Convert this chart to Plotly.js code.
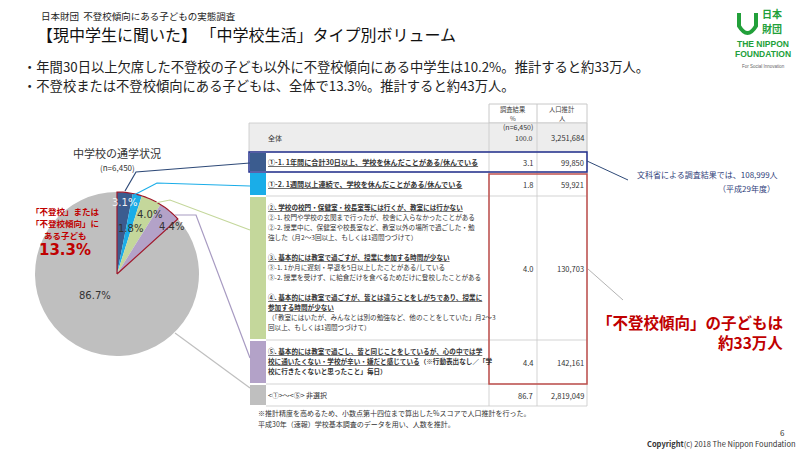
<!DOCTYPE html>
<html><head><meta charset="utf-8">
<script src="https://cdn.plot.ly/plotly-3.0.1.min.js"></script>
<style>html,body{margin:0;padding:0;background:#fff}#chart{width:800px;height:450px}</style>
</head><body><div id="chart"></div>
<script>
// ---------- data ----------
const categories = ['①-1', '①-2', '②～④', '⑤', '非選択'];
const percents = [3.1, 1.8, 4.0, 4.4, 86.7];
const pctLabels = ['3.1', '1.8', '4.0', '4.4', '86.7'];
const populations = ['99,850', '59,921', '130,703', '142,161', '2,819,049'];
const totalN = '(n=6,450)';
const totalPct = '100.0';
const totalPop = '3,251,684';
const headerPct = ['調査結果', '%'];
const headerPop = ['人口推計', '人'];
const rowTexts = [
  ['<b><u>①-1. 1年間に合計30日以上、学校を休んだことがある/休んでいる</u></b>'],
  ['<b><u>①-2. 1週間以上連続で、学校を休んだことがある/休んでいる</u></b>'],
  ['<b><u>②. 学校の校門・保健室・校長室等には行くが、教室には行かない</u></b>',
   '②-1. 校門や学校の玄関まで行ったが、校舎に入らなかったことがある',
   '②-2. 授業中に、保健室や校長室など、教室以外の場所で過ごした・勉',
   '強した（月2～3回以上、もしくは1週間つづけて）',
   '',
   '<b><u>③. 基本的には教室で過ごすが、授業に参加する時間が少ない</u></b>',
   '③-1. 1か月に遅刻・早退を5日以上したことがある/している',
   '③-2. 授業を受けず、に給食だけを食べるためだけに登校したことがある',
   '',
   '<b><u>④. 基本的には教室で過ごすが、皆とは違うことをしがちであり、授業に</u></b>',
   '<b><u>参加する時間が少ない</u></b>',
   '（「教室にはいたが、みんなとは別の勉強など、他のことをしていた」月2～3',
   '回以上、もしくは1週間つづけて）'],
  ['<b><u>⑤. 基本的には教室で過ごし、皆と同じことをしているが、心の中では学</u></b>',
   '<b><u>校に通いたくない・学校が辛い・嫌だと感じている</u>（※行動表出なし／「学</b>',
   '<b>校に行きたくないと思ったこと」毎日）</b>'],
  ['&lt;①&gt;～&lt;⑤&gt; 非選択']
];

// ---------- styles / geometry ----------
const W = 800, H = 450;
const F = '"Noto Sans CJK JP", "Noto Sans", sans-serif';
const sliceColors = ['#3B5C8F', '#1AADE8', '#C4D79B', '#B3A2C8', '#BFBFBF'];
const RED = '#C00000', NAVY = '#23308F', GRID = '#C8C8C8';
const pie = {cx: 117, cy: 274, r: 82};
const tbl = {x0: 249, strip: 266, c1: 489, c2: 537, x1: 587, hTop: 104, hBot: 123, tBot: 152};
const rowTop = [152, 172, 196, 340, 384];
const rowBot = [172, 196, 340, 384, 406];
const rowFirstLine = [162, 184, 207, 351, 395];
const rowFont = [7.1, 7.1, 6.6, 6.6, 7];
const labelR = [0.88, 0.58, 0.83, 0.88, 0.37];
const labelDA = [0, 2, 4, 9, 22];
const labelColor = ['#F2F2F2', '#333', '#333', '#333', '#333'];

const px = x => x / W, py = y => 1 - y / H;
function T(x, y, text, size, color, anchor, extra) {
  return Object.assign({xref: 'paper', yref: 'paper', x: px(x), y: py(y), text: text, showarrow: false,
    xanchor: anchor || 'left', yanchor: 'middle', borderpad: 0,
    font: {family: F, size: size, color: color || '#333'}}, extra || {});
}
function L(x0, y0, x1, y1, color, width) {
  return {type: 'line', xref: 'paper', yref: 'paper', x0: px(x0), y0: py(y0), x1: px(x1), y1: py(y1),
    line: {color: color, width: width || 1}};
}
function R(x0, y0, x1, y1, fill, lc, lw) {
  return {type: 'rect', xref: 'paper', yref: 'paper', x0: px(x0), y0: py(y0), x1: px(x1), y1: py(y1),
    fillcolor: fill || 'rgba(0,0,0,0)', line: {color: lc || 'rgba(0,0,0,0)', width: lw || 0}};
}
function P(points, color, width, fill) {
  const d = points.map((p, i) => (i ? 'L' : 'M') + px(p[0]) + ',' + py(p[1])).join(' ') + (fill ? ' Z' : '');
  return {type: 'path', xref: 'paper', yref: 'paper', path: d,
    line: {color: color, width: width || 1}, fillcolor: fill || 'rgba(0,0,0,0)'};
}

const shapes = [], annotations = [];

// ---------- pie helpers ----------
const total = percents.reduce((a, b) => a + b, 0);
let cum = 0;
const starts = percents.map(v => { const s = cum; cum += v; return s; });
function polar(angDeg, rf) {
  const a = angDeg * Math.PI / 180;
  return [pie.cx + pie.r * rf * Math.sin(a), pie.cy - pie.r * rf * Math.cos(a)];
}
percents.forEach((v, i) => {
  const mid = (starts[i] + v / 2) / total * 360 + labelDA[i];
  const p = polar(mid, labelR[i]);
  annotations.push(T(p[0], p[1], pctLabels[i] + '%', 10, labelColor[i], 'center',
    {font: {family: '"DejaVu Sans", sans-serif', size: 10, color: labelColor[i]}}));
});
const groupEnd = starts[4] / total * 360;
const outline = [[pie.cx, pie.cy]];
for (let k = 0; k <= 24; k++) outline.push(polar(groupEnd * k / 24, 1));
outline.push([pie.cx, pie.cy]);
shapes.push(P(outline, '#A0192B', 1.2));

// ---------- table ----------
shapes.push(R(tbl.c1, tbl.hTop, tbl.x1, tbl.hBot, '#FFFFFF', GRID, 1));
shapes.push(L(tbl.c2, tbl.hTop, tbl.c2, tbl.hBot, GRID));
annotations.push(T((tbl.c1 + tbl.c2) / 2, 109, headerPct[0], 6.3, '#444', 'center'));
annotations.push(T((tbl.c1 + tbl.c2) / 2, 118, headerPct[1], 6.3, '#444', 'center'));
annotations.push(T((tbl.c2 + tbl.x1) / 2, 109, headerPop[0], 6.3, '#444', 'center'));
annotations.push(T((tbl.c2 + tbl.x1) / 2, 118, headerPop[1], 6.3, '#444', 'center'));
shapes.push(R(tbl.x0, tbl.hBot, tbl.x1, tbl.tBot, '#EDEDED', GRID, 0.8));
annotations.push(T(267, 138, '全体', 7, '#333'));
annotations.push(T(534, 127, totalN, 7, '#333', 'right'));
annotations.push(T(534, 138, totalPct, 7, '#333', 'right'));
annotations.push(T(585, 137, totalPop, 7.5, '#333', 'right'));
categories.forEach((c, i) => {
  const t = rowTop[i], b = rowBot[i];
  shapes.push(R(tbl.x0 + 1, t + 1, tbl.strip, b - 1, sliceColors[i]));
  shapes.push(L(tbl.strip, b, tbl.x1, b, GRID, 0.8));
  rowTexts[i].forEach((line, k) => {
    if (line) annotations.push(T(267, rowFirstLine[i] + 10 * k, line, rowFont[i], '#333'));
  });
  const mid = (t + b) / 2;
  annotations.push(T(534, mid, pctLabels[i], 7.5, '#333', 'right'));
  annotations.push(T(585, mid, populations[i], 7.5, '#333', 'right'));
});
shapes.push(L(tbl.c1, tbl.hBot, tbl.c1, 406, GRID, 0.8));
shapes.push(L(tbl.c2, tbl.hBot, tbl.c2, 406, GRID, 0.8));
shapes.push(L(tbl.x1, tbl.hBot, tbl.x1, 406, GRID, 0.8));
shapes.push(R(tbl.x0, 152, tbl.x1, 172, null, NAVY, 1.5));
shapes.push(R(tbl.c1, 174, tbl.x1, 384, null, '#C0504D', 1.5));

// connectors
shapes.push(P([[125, 191], [136, 172], [250, 163]], '#2F4A78', 1.2));
shapes.push(P([[134, 195], [157, 183], [250, 186]], '#1AADE8', 1.2));
shapes.push(P([[155, 203], [170, 200], [250, 230]], '#C4D79B', 1.2));
shapes.push(P([[175, 215], [196, 215], [250, 358]], '#A89BC2', 1.2));
shapes.push(P([[175, 333], [250, 388]], '#BFBFBF', 1.2));
shapes.push(L(587, 161, 628, 180, '#2F4A78', 1));
shapes.push(L(588, 269, 623, 300, '#A0A0A0', 0.8));

// ---------- texts ----------
annotations.push(T(40, 16, '日本財団  不登校傾向にある子どもの実態調査', 9.5, '#222'));
annotations.push(T(36, 34, '【現中学生に聞いた】 「中学校生活」タイプ別ボリューム', 16, '#111'));
annotations.push(T(22, 66, '・年間30日以上欠席した不登校の子ども以外に不登校傾向にある中学生は10.2%。推計すると約33万人。', 13.3, '#222'));
annotations.push(T(22, 85, '・不登校または不登校傾向にある子どもは、全体で13.3%。推計すると約43万人。', 13.3, '#222'));
annotations.push(T(117, 153, '中学校の通学状況', 11, '#333', 'center'));
annotations.push(T(117, 167, '(n=6,450)', 8, '#333', 'center'));
annotations.push(T(65, 211, '<b>「不登校」または</b>', 8.5, RED, 'center'));
annotations.push(T(65, 223, '<b>「不登校傾向」に</b>', 8.5, RED, 'center'));
annotations.push(T(65, 235, '<b>ある子ども</b>', 8.5, RED, 'center'));
annotations.push(T(65, 250, '<b>13.3%</b>', 15, RED, 'center', {font: {family: '"DejaVu Sans", sans-serif', size: 15, color: RED}}));
annotations.push(T(257, 413, '※推計精度を高めるため、小数点第十四位まで算出した%スコアで人口推計を行った。', 7, '#333'));
annotations.push(T(257, 424, '平成30年（速報）学校基本調査のデータを用い、人数を推計。', 7, '#333'));
annotations.push(T(779, 175, '文科省による調査結果では、108,999人', 8, '#2F3E7A', 'right'));
annotations.push(T(776, 188, '（平成29年度）', 8, '#2F3E7A', 'right'));
annotations.push(T(784, 322, '<b>「不登校傾向」の子どもは</b>', 15.5, RED, 'right'));
annotations.push(T(784, 342, '<b>約33万人</b>', 15.5, RED, 'right'));
annotations.push(T(786, 432, '6', 8, '#333', 'right'));
annotations.push(T(797, 443, '<b>Copyright</b>(c) 2018 The Nippon Foundation', 7.5, '#333', 'right'));
// logo
const GREEN = '#22A03A';
shapes.push({type: 'path', xref: 'paper', yref: 'paper',
  path: 'M' + px(739) + ',' + py(13) + ' L' + px(739) + ',' + py(26) + ' Q' + px(747.5) + ',' + py(40) + ' ' + px(756) + ',' + py(26) + ' L' + px(756) + ',' + py(13),
  line: {color: GREEN, width: 4}});
annotations.push(T(772, 14, '<b>日本</b>', 10, GREEN, 'center'));
annotations.push(T(772, 29, '<b>財団</b>', 10, GREEN, 'center'));
annotations.push(T(763, 44, '<b>THE NIPPON</b>', 8.5, GREEN, 'center', {font: {family: '"Liberation Sans", Arial, sans-serif', size: 8.5, color: GREEN}}));
annotations.push(T(763, 54, '<b>FOUNDATION</b>', 8.5, GREEN, 'center', {font: {family: '"Liberation Sans", Arial, sans-serif', size: 8.5, color: GREEN}}));
annotations.push(T(763, 66, 'For Social Innovation', 4.5, '#666', 'center', {font: {family: '"Liberation Sans", Arial, sans-serif', size: 4.5, color: '#666'}}));

// ---------- pie trace ----------
const trace = {
  type: 'pie', labels: categories, values: percents, sort: false, direction: 'clockwise', rotation: 0,
  marker: {colors: sliceColors, line: {width: 0}}, textinfo: 'none', hoverinfo: 'skip', showlegend: false,
  domain: {x: [px(pie.cx - pie.r), px(pie.cx + pie.r)], y: [py(pie.cy + pie.r), py(pie.cy - pie.r)]}
};

Plotly.newPlot('chart', [trace], {
  width: W, height: H, margin: {l: 0, r: 0, t: 0, b: 0},
  paper_bgcolor: '#FFFFFF', plot_bgcolor: '#FFFFFF', showlegend: false,
  shapes: shapes, annotations: annotations, font: {family: F}
}, {staticPlot: true, displayModeBar: false});
</script>
</body></html>
